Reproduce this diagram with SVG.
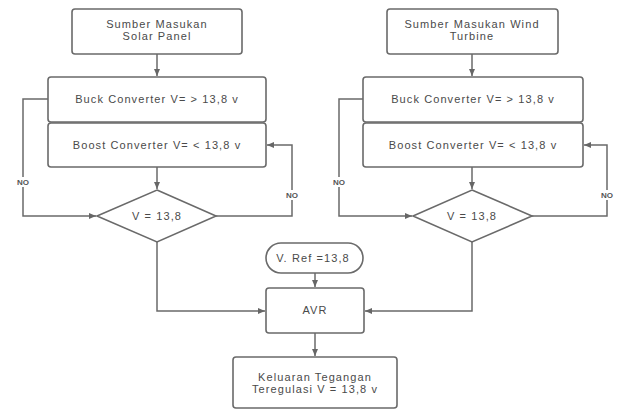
<svg xmlns="http://www.w3.org/2000/svg" width="620" height="410" viewBox="0 0 620 410">
<style>
.box{fill:#fff;stroke:#6a6a6a;stroke-width:1.6}
.t{font-family:"Liberation Sans",Arial,sans-serif;font-size:11px;letter-spacing:1.1px;fill:#4a4a4a;text-anchor:middle}
.no{font-family:"Liberation Sans",Arial,sans-serif;font-size:8px;font-weight:bold;fill:#555;text-anchor:middle}
.c{fill:none;stroke:#6a6a6a;stroke-width:1.5}
.nobg{fill:#fff}
</style>
<defs>
<marker id="ah" markerWidth="8" markerHeight="8" refX="7" refY="4" orient="auto" markerUnits="userSpaceOnUse">
<path d="M0,1 L7,4 L0,7 Z" fill="#666"/>
</marker>
</defs>
<rect width="620" height="410" fill="#fff"/>
<g id="connectors">
<path class="c" d="M157,54 V76" marker-end="url(#ah)"/>
<path class="c" d="M157,167 V189" marker-end="url(#ah)"/>
<path class="c" d="M48,99 H23 V216 H96" marker-end="url(#ah)"/>
<path class="c" d="M216,216 H292 V145 H267" marker-end="url(#ah)"/>
<path class="c" d="M157,242 V311 H265" marker-end="url(#ah)"/>
<path class="c" d="M472,54 V76" marker-end="url(#ah)"/>
<path class="c" d="M472,167 V189" marker-end="url(#ah)"/>
<path class="c" d="M363,99 H339 V216 H412" marker-end="url(#ah)"/>
<path class="c" d="M532,216 H607 V145 H584" marker-end="url(#ah)"/>
<path class="c" d="M472,242 V311 H365" marker-end="url(#ah)"/>
<path class="c" d="M315,273 V287" marker-end="url(#ah)"/>
<path class="c" d="M315,333 V356" marker-end="url(#ah)"/>
<rect class="nobg" x="13" y="177" width="20" height="10"/>
<text class="no" x="23" y="185">NO</text>
<rect class="nobg" x="282" y="190" width="20" height="10"/>
<text class="no" x="292" y="198">NO</text>
<rect class="nobg" x="329" y="177" width="20" height="10"/>
<text class="no" x="339" y="185">NO</text>
<rect class="nobg" x="597" y="190" width="20" height="10"/>
<text class="no" x="607" y="198">NO</text>
</g>
<g id="solar">
<rect class="box" x="72" y="9" width="170" height="45" rx="3"/>
<text class="t" x="157" y="28">Sumber Masukan</text>
<text class="t" x="157" y="40">Solar Panel</text>
</g>
<g id="buck1">
<rect class="box" x="48" y="77" width="218" height="45" rx="3"/>
<text class="t" x="157" y="103">Buck Converter V= &gt; 13,8 v</text>
</g>
<g id="boost1">
<rect class="box" x="48" y="123" width="218" height="44" rx="3"/>
<text class="t" x="157" y="149">Boost Converter V= &lt; 13,8 v</text>
</g>
<g id="dec1">
<path class="box" d="M157,190 L216,216 L157,242 L97,216 Z"/>
<text class="t" x="157" y="220">V = 13,8</text>
</g>
<g id="wind">
<rect class="box" x="387" y="9" width="171" height="45" rx="3"/>
<text class="t" x="472" y="28">Sumber Masukan Wind</text>
<text class="t" x="472" y="40">Turbine</text>
</g>
<g id="buck2">
<rect class="box" x="363" y="77" width="220" height="45" rx="3"/>
<text class="t" x="473" y="103">Buck Converter V= &gt; 13,8 v</text>
</g>
<g id="boost2">
<rect class="box" x="363" y="123" width="220" height="44" rx="3"/>
<text class="t" x="473" y="149">Boost Converter V= &lt; 13,8 v</text>
</g>
<g id="dec2">
<path class="box" d="M472,190 L532,216 L472,242 L413,216 Z"/>
<text class="t" x="472" y="220">V = 13,8</text>
</g>
<g id="vref">
<rect class="box" x="266" y="243" width="97" height="30" rx="15"/>
<text class="t" x="313" y="262">V. Ref =13,8</text>
</g>
<g id="avr">
<rect class="box" x="266" y="288" width="98" height="45" rx="3"/>
<text class="t" x="315" y="314">AVR</text>
</g>
<g id="output">
<rect class="box" x="233" y="357" width="164" height="51" rx="3"/>
<text class="t" x="315" y="381">Keluaran Tegangan</text>
<text class="t" x="315" y="393">Teregulasi V = 13,8 v</text>
</g>
</svg>
